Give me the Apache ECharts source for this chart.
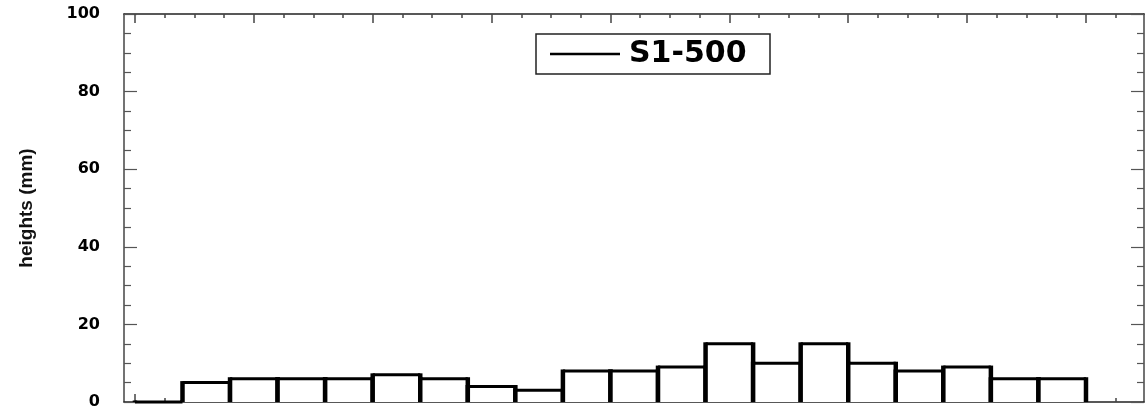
<!DOCTYPE html>
<html>
<head>
<meta charset="utf-8">
<title>S1-500</title>
<script src="https://cdn.jsdelivr.net/npm/echarts@6/dist/echarts.min.js"></script>
<style>
  html, body { margin: 0; padding: 0; background: #fff; }
  #chart { width: 1148px; height: 407px; }
</style>
</head>
<body>
<div id="chart"></div>
<script>
// bins of 20 mm each, start of every bin
const binStarts = [0, 20, 40, 60, 80, 100, 120, 140, 160, 180, 200, 220, 240, 260, 280, 300, 320, 340, 360, 380];
const binWidth = 20;
const heights = [0, 5, 6, 6, 6, 7, 6, 4, 3, 8, 8, 9, 15, 10, 15, 10, 8, 9, 6, 6];
const seriesName = 'S1-500';

// x ticks (no labels in the picture)
const xMajorTicks = [0, 50, 100, 150, 200, 250, 300, 350, 400];
const xMinorTicks = [12.5, 25, 37.5, 62.5, 75, 87.5, 112.5, 125, 137.5, 162.5, 175, 187.5,
    212.5, 225, 237.5, 262.5, 275, 287.5, 312.5, 325, 337.5, 362.5, 375, 387.5, 412.5];

const xMin = -4.6;
const xMax = 424.4;

document.addEventListener('DOMContentLoaded', function () {
    initChart();
});

function xAxisDef(position, ticks, len, showLine) {
    return {
        type: 'value',
        position: position,
        min: xMin,
        max: xMax,
        axisLine: { show: showLine, onZero: false, lineStyle: { color: '#222', width: 1.5 } },
        axisTick: { show: true, inside: true, length: len, customValues: ticks, lineStyle: { color: '#444', width: 1.5 } },
        axisLabel: { show: false },
        splitLine: { show: false }
    };
}

function yAxisDef(position, withLabels) {
    return {
        type: 'value',
        position: position,
        min: 0,
        max: 100,
        interval: 20,
        name: withLabels ? 'heights (mm)' : '',
        nameLocation: 'middle',
        nameRotate: 90,
        nameGap: 88,
        nameTextStyle: {
            fontFamily: "'Liberation Sans Narrow', 'Liberation Sans', sans-serif",
            fontWeight: 'bold',
            fontSize: 19,
            color: '#111'
        },
        axisLine: { show: true, onZero: false, lineStyle: { color: '#444', width: 1.5 } },
        axisTick: { show: true, inside: true, length: 13, lineStyle: { color: '#555', width: 1.2 } },
        minorTick: { show: true, splitNumber: 4, length: 7, lineStyle: { color: '#555', width: 1.2 } },
        axisLabel: {
            show: withLabels,
            margin: 24,
            color: '#000',
            fontFamily: "'DejaVu Sans', sans-serif",
            fontWeight: 'bold',
            fontSize: 16
        },
        splitLine: { show: false }
    };
}

function initChart() {
    const chart = echarts.init(document.getElementById('chart'));

    const data = binStarts.map((s, i) => [s, heights[i]]);

    const option = {
        animation: false,
        backgroundColor: '#fff',
        grid: { left: 124, right: 4, top: 14, bottom: 5, containLabel: false, outerBoundsMode: 'none' },
        legend: {
            left: 536,
            top: 34,
            orient: 'horizontal',
            padding: [5, 13, 5, 14],
            borderColor: '#222',
            borderWidth: 1.5,
            itemWidth: 70,
            itemHeight: 2.5,
            data: [{ name: seriesName, icon: 'rect', itemStyle: { color: '#000' } }],
            textStyle: {
                fontFamily: "'DejaVu Sans', sans-serif",
                fontWeight: 'bold',
                fontSize: 30,
                lineHeight: 28,
                color: '#000',
                width: 128,
                padding: [0, 0, 0, 4]
            }
        },
        xAxis: [
            xAxisDef('bottom', xMajorTicks, 8, true),
            xAxisDef('bottom', xMinorTicks, 4, false),
            xAxisDef('top', xMajorTicks, 9, true),
            xAxisDef('top', xMinorTicks, 4, false)
        ],
        yAxis: [
            yAxisDef('left', true),
            yAxisDef('right', false)
        ],
        series: [
            {
                name: seriesName,
                type: 'custom',
                xAxisIndex: 0,
                yAxisIndex: 0,
                clip: false,
                z: 5,
                itemStyle: { color: '#000' },
                renderItem: function (params, api) {
                    const x0 = api.value(0);
                    const v = api.value(1);
                    const p1 = api.coord([x0, 0]);
                    const p2 = api.coord([x0, v]);
                    const p3 = api.coord([x0 + binWidth, v]);
                    const p4 = api.coord([x0 + binWidth, 0]);
                    // vertical edges look heavier than the tops in the picture
                    return {
                        type: 'group',
                        children: [
                            { type: 'polygon', shape: { points: [p1, p2, p3, p4] }, style: { fill: '#fff', stroke: null } },
                            { type: 'line', shape: { x1: p2[0], y1: p2[1], x2: p3[0], y2: p3[1] }, style: { stroke: '#000', lineWidth: 3 } },
                            { type: 'line', shape: { x1: p1[0], y1: p1[1], x2: p2[0], y2: p2[1] - 1.5 }, style: { stroke: '#000', lineWidth: 4.5 } },
                            { type: 'line', shape: { x1: p4[0], y1: p4[1], x2: p3[0], y2: p3[1] - 1.5 }, style: { stroke: '#000', lineWidth: 4.5 } }
                        ]
                    };
                },
                encode: { x: 0, y: 1 },
                data: data
            }
        ]
    };

    chart.setOption(option);
}
</script>
</body>
</html>
